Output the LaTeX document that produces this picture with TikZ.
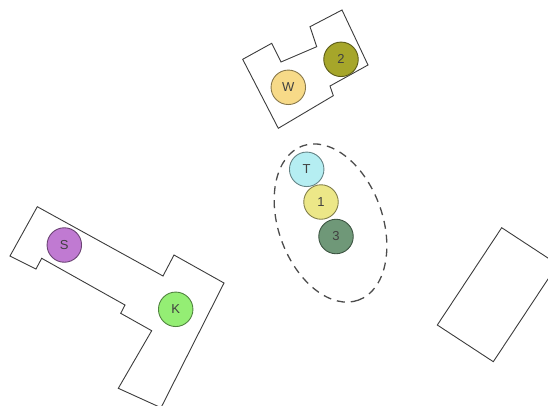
\documentclass[tikz,border=0pt]{standalone}
\usepackage{fontspec}
\setmainfont{Liberation Sans}
\definecolor{bline}{HTML}{3C3C3C}
\definecolor{wfill}{HTML}{F7DA88}
\definecolor{twofill}{HTML}{A6A62A}
\definecolor{tfill}{HTML}{B5EEF2}
\definecolor{onefill}{HTML}{ECE788}
\definecolor{threefill}{HTML}{6F9878}
\definecolor{sfill}{HTML}{C07AD2}
\definecolor{kfill}{HTML}{94EE74}
\begin{document}
\begin{tikzpicture}[x=1pt,y=-1pt,
  bld/.style={draw=bline, line width=0.9pt, line join=miter},
  pin/.style={circle, draw=#1!55!black, fill=#1, line width=0.9pt, minimum size=34.5pt, inner sep=0pt,
    font=\fontsize{13}{15}\selectfont, text=black!75}]
\useasboundingbox (0,0) rectangle (548,405);
\clip (0,0) rectangle (548,405);
% top building
\draw[bld] (242.7,59.3) -- (271.7,43.3) -- (281,62) -- (316.7,46.7) -- (310,26.7) -- (342,10)
  -- (368,65) -- (330,86) -- (333.3,95.7) -- (278.3,128.3) -- cycle;
% left building
\draw[bld] (37.3,206.7) -- (163,276) -- (174,255) -- (224,283) -- (161,407.7) -- (118.3,388.3)
  -- (151.7,330.7) -- (120.7,313.3) -- (125,305) -- (41.7,258.3) -- (36,269) -- (10,256) -- cycle;
% right building
\draw[bld] (501.7,227.7) -- (557.7,264.4) -- (493.3,361.7) -- (437.3,325) -- cycle;
% dashed ellipse
\coordinate (ec) at (330.5,223);
\draw[draw=black!70, line width=1.3pt, dash pattern=on 8pt off 6pt, rotate around={-70:(ec)}]
  (ec) ellipse [x radius=82, y radius=52];
% pins
\node[pin=wfill] (W) at (288.3,87.3) {W};
\node[pin=twofill] (two) at (341,59.3) {2};
\node[pin=tfill] (T) at (306.7,169.3) {T};
\node[pin=onefill] (one) at (321,202) {1};
\node[pin=threefill] (three) at (336,236.5) {3};
\node[pin=sfill] (S) at (64.3,245) {S};
\node[pin=kfill] (K) at (175.7,309.3) {K};
\end{tikzpicture}
\end{document}
